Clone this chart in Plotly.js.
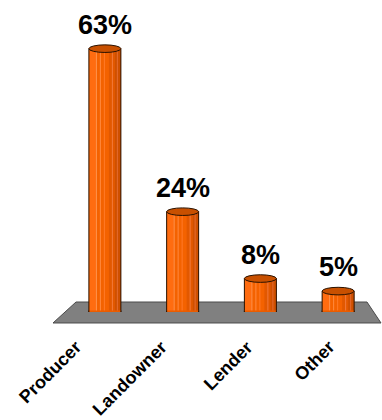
<!DOCTYPE html>
<html>
<head>
<meta charset="utf-8">
<script src="https://cdn.plot.ly/plotly-3.0.1.min.js"></script>
<style>html,body{margin:0;padding:0;background:#fff;}#chart{width:382px;height:420px;}</style>
</head>
<body>
<div id="chart"></div>
<script>
// ---- data ----
const categories = ['Producer', 'Landowner', 'Lender', 'Other'];
const shares = [63, 24, 8, 5];
const valueLabels = shares.map(v => v + '%');

// ---- style ----
const W = 382, H = 420;
const M = {l: 66, r: 5, t: 10, b: 108};
const plotW = W - M.l - M.r, plotH = H - M.t - M.b;
const pxPerPct = 4.18;
const pxPerCat = plotW / categories.length;
const halfBar = 16;           // px
const capRy = 3.8;            // px, ellipse half-height
const labelShift = [-18, -10, -3, 2]; // perspective offsets for category labels (px)
const FONT = 'Liberation Sans, Arial, Helvetica, sans-serif';

// vertical shading stripes of the cylinder: [fromPx, toPx, color]
const stripes = [
  [-16, 16, '#F46200'],
  [-15.5, -9, '#FF6C10'],
  [-9, -8, '#FF9450'],
  [-5, -4, '#FF8A40'],
  [-1, 0, '#FF7A28'],
  [4, 10, '#E25800'],
  [7, 8, '#F27A3C'],
  [10, 16, '#CF5000'],
  [12, 13, '#E46A30']
];

const traces = stripes.map(s => ({
  type: 'bar',
  x: categories,
  y: shares,
  width: (s[1] - s[0]) / pxPerCat,
  offset: s[0] / pxPerCat,
  marker: {color: s[2], line: {width: 0}},
  hoverinfo: 'skip',
  showlegend: false
}));
// outline
traces.push({
  type: 'bar',
  x: categories,
  y: shares,
  width: (2 * halfBar) / pxPerCat,
  offset: -halfBar / pxPerCat,
  marker: {color: 'rgba(0,0,0,0)', line: {width: 1, color: '#2a1200'}},
  hoverinfo: 'skip',
  showlegend: false
});

const k = 0.5523;
const bottomCapPath =
  `M ${-halfBar} 1.5 L ${-halfBar} 0 ` +
  `C ${-halfBar} ${-k * capRy} ${-k * halfBar} ${-capRy} 0 ${-capRy} ` +
  `C ${k * halfBar} ${-capRy} ${halfBar} ${-k * capRy} ${halfBar} 0 L ${halfBar} 1.5`;

const shapes = [];
// floor (decoration) in paper coords
const px2pxp = x => (x - M.l) / plotW;
const py2pyp = y => (M.t + plotH - y) / plotH;
const floorPts = [[76, 302], [367, 302], [381, 323], [53, 323]];
shapes.push({
  type: 'path', xref: 'paper', yref: 'paper', layer: 'below',
  path: 'M ' + floorPts.map(p => px2pxp(p[0]).toFixed(4) + ' ' + py2pyp(p[1]).toFixed(4)).join(' L ') + ' Z',
  fillcolor: '#808080', line: {color: '#4a4a4a', width: 1}
});
categories.forEach((c, i) => {
  shapes.push({
    type: 'path', xref: 'x', yref: 'y', layer: 'above',
    xsizemode: 'pixel', ysizemode: 'pixel', xanchor: c, yanchor: 0,
    path: bottomCapPath,
    fillcolor: '#EA5C00', line: {color: '#2a1200', width: 1}
  });
  shapes.push({
    type: 'circle', xref: 'x', yref: 'y', layer: 'above',
    xsizemode: 'pixel', ysizemode: 'pixel', xanchor: c, yanchor: shares[i],
    x0: -halfBar, x1: halfBar, y0: -capRy, y1: capRy,
    fillcolor: '#C85000', line: {color: '#2a1200', width: 1}
  });
});

const annotations = [];
categories.forEach((c, i) => {
  annotations.push({
    x: c, y: shares[i], xref: 'x', yref: 'y',
    text: valueLabels[i], showarrow: false,
    xanchor: 'center', yanchor: 'bottom', yshift: 7,
    font: {family: FONT, size: 27, color: '#000', weight: 700}
  });
  annotations.push({
    x: c, y: 0, xref: 'x', yref: 'y',
    text: c, showarrow: false, textangle: -45, borderpad: 0,
    xanchor: 'right', yanchor: 'top', yshift: -24, xshift: labelShift[i],
    font: {family: FONT, size: 18, color: '#000', weight: 700}
  });
});

const layout = {
  width: W, height: H,
  margin: M,
  paper_bgcolor: '#fff', plot_bgcolor: 'rgba(0,0,0,0)',
  barmode: 'overlay',
  xaxis: {type: 'category', categoryorder: 'array', categoryarray: categories,
          range: [-0.5, categories.length - 0.5], showgrid: false, zeroline: false,
          showline: false, showticklabels: false, ticks: '', fixedrange: true},
  yaxis: {range: [0, plotH / pxPerPct], showgrid: false, zeroline: false,
          showline: false, showticklabels: false, ticks: '', fixedrange: true},
  shapes: shapes,
  annotations: annotations,
  showlegend: false
};

Plotly.newPlot('chart', traces, layout, {staticPlot: true, displayModeBar: false});
</script>
</body>
</html>
